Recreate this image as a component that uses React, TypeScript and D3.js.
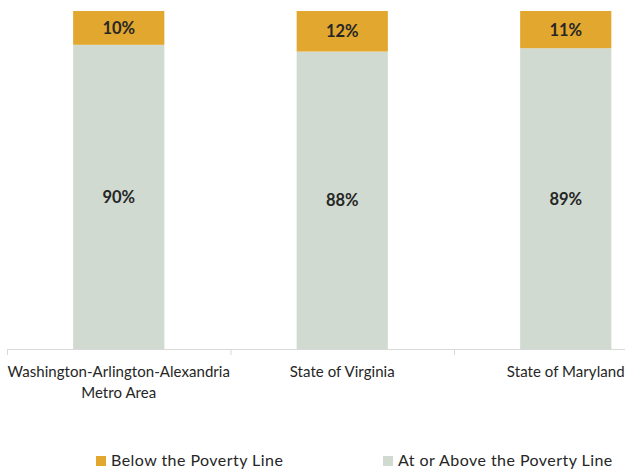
import React from "react";
import * as d3 from "d3";

const categories = ["Washington-Arlington-Alexandria|Metro Area", "State of Virginia", "State of Maryland"];
const belowValues = [10, 12, 11];
const aboveValues = [90, 88, 89];
const seriesNames = ["Below the Poverty Line", "At or Above the Poverty Line"];
const colors = ["#E2A72E", "#D0DAD0"];

const W = 625;
const H = 473;
const FONT = "Lato, 'Open Sans', sans-serif";

export default function App() {
  const x = d3.scaleBand<string>().domain(categories).range([7, 7 + 223.5 * 3]).paddingInner(0.592).paddingOuter(0.296);
  const y = d3.scaleLinear().domain([0, 100]).range([349, 11]);
  const rows = categories.map((c, i) => ({ cat: c, below: belowValues[i], above: aboveValues[i] }));
  const stack = d3.stack<any>().keys(["above", "below"])(rows as any);
  const bw = x.bandwidth();
  return (
    <svg width={W} height={H} style={{ position: "absolute", left: 0, top: 0 }}>
      <rect width={W} height={H} fill="#fff" />
      {stack.map((layer) => {
        const ci = layer.key === "below" ? 0 : 1;
        return layer.map((d, i) => {
          const x0 = x(categories[i])!;
          const y0 = y(d[1]);
          const y1 = y(d[0]);
          const val = ci === 0 ? belowValues[i] : aboveValues[i];
          return (
            <g key={layer.key + i}>
              <rect x={x0} y={y0} width={bw} height={y1 - y0} fill={colors[ci]} />
              <text x={x0 + bw / 2} y={(y0 + y1) / 2} textAnchor="middle" dominantBaseline="central" fontFamily={FONT} fontWeight="bold" fontSize={16.5} fill="#262626">{val}%</text>
            </g>
          );
        });
      })}
      <line x1={7} x2={W} y1={349.5} y2={349.5} stroke="#D9D9D9" strokeWidth={1} />
      {categories.map((c, i) => {
        const tx = 7 + 223.5 * i;
        return <line key={"t" + i} x1={tx + 0.5} x2={tx + 0.5} y1={349} y2={355} stroke="#D9D9D9" />;
      })}
      {categories.map((c, i) => {
        const cx = x(c)! + bw / 2;
        const lines = c.split("|");
        return (
          <text key={"c" + i} x={cx} textAnchor="middle" fontFamily={FONT} fontSize={15} letterSpacing={0.05} fill="#262626">
            {lines.map((l, j) => (
              <tspan key={j} x={cx} y={377 + j * 21}>{l}</tspan>
            ))}
          </text>
        );
      })}
      {seriesNames.map((s, i) => {
        const lx = [96, 383][i];
        return (
          <g key={"l" + i}>
            <rect x={lx} y={456} width={10} height={10} fill={colors[i]} />
            <text x={lx + 15} y={466} fontFamily={FONT} fontSize={16} letterSpacing={0.45} fill="#262626">{s}</text>
          </g>
        );
      })}
    </svg>
  );
}
